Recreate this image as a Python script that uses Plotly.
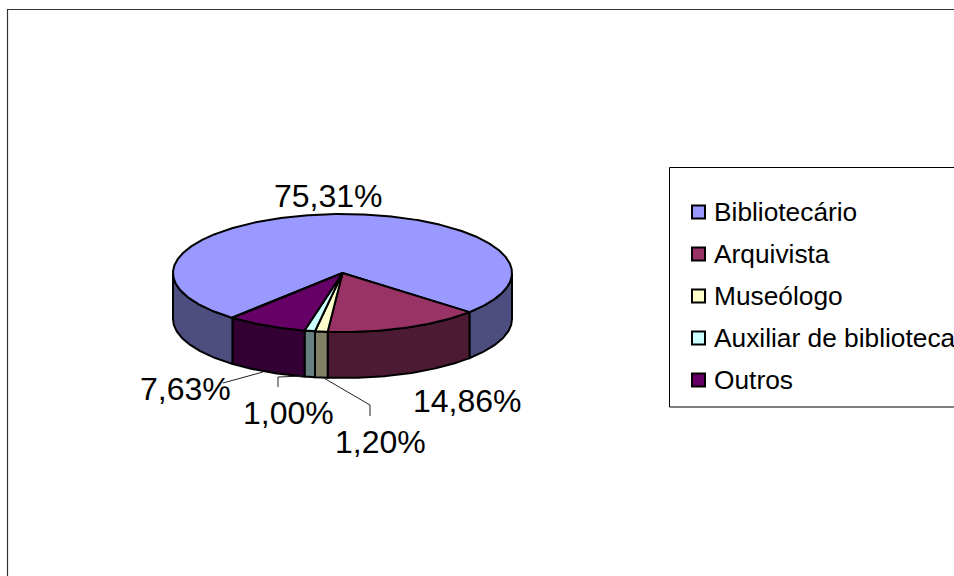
import numpy as np
import plotly.graph_objects as go

categories = ["Bibliotecário", "Arquivista", "Museólogo", "Auxiliar de biblioteca", "Outros"]
shares = [75.31, 14.86, 1.20, 1.00, 7.63]
top_colors = ["#9999FF", "#993366", "#FFFFCC", "#CCFFFF", "#660066"]
wall_colors = ["#4D4D80", "#4D1A33", "#808066", "#668080", "#330033"]

CX, CY, RX, RY, DEPTH = 342.5, 273.0, 169.5, 59.0, 46.0
START_DEG = 130.4
FONT = "Liberation Sans"
label_pos = [(328, 196), (467, 401), (380, 442), (288, 413), (185.5, 389)]
leaders = [None, None,
           ([370, 370, 322], [416, 405, 377]),
           ([278, 278, 303], [387, 377, 376]),
           ([223, 263], [383, 372])]
LEG_LEFT, LEG_TOP, LEG_BOTTOM = 669.5, 167.5, 407.0
LEG_MARKER_X, LEG_TEXT_X = 698.5, 712.0
LEG_FIRST_Y, LEG_STEP = 212.0, 42.0

def arc(a0, a1, dy=0.0):
    t = np.radians(np.linspace(a0, a1, max(int(abs(a1 - a0) * 2), 2)))
    return CX + RX * np.cos(t), CY + dy + RY * np.sin(t)

fig = go.Figure()
edges = np.concatenate([[0], np.cumsum(shares)]) / sum(shares) * 360 + START_DEG
spans = [(edges[i], edges[i + 1]) for i in range(len(shares))]

# side walls (only the front half of the disc is visible)
for i, (a0, a1) in enumerate(spans):
    for offset in (0, 360):
        lo, hi = max(a0, offset), min(a1, offset + 180)
        if hi <= lo:
            continue
        xt, yt = arc(lo, hi)
        xb, yb = arc(hi, lo, DEPTH)
        fig.add_trace(go.Scatter(
            x=np.r_[xt, xb, xt[0]], y=np.r_[yt, yb, yt[0]], mode="lines", fill="toself",
            fillcolor=wall_colors[i], line=dict(color="black", width=2),
            showlegend=False, hoverinfo="skip"))

# top faces
for i, (a0, a1) in enumerate(spans):
    xa, ya = arc(a0, a1)
    fig.add_trace(go.Scatter(
        x=np.r_[CX, xa, CX], y=np.r_[CY, ya, CY], mode="lines", fill="toself",
        fillcolor=top_colors[i], line=dict(color="black", width=2),
        showlegend=False, name=categories[i], hoverinfo="name"))

# leader lines
for seg in leaders:
    if seg:
        fig.add_trace(go.Scatter(x=seg[0], y=seg[1], mode="lines",
                                 line=dict(color="#222222", width=1),
                                 showlegend=False, hoverinfo="skip"))

for s, (lx, ly) in zip(shares, label_pos):
    fig.add_annotation(x=lx, y=ly, text=f"{s:.2f}%".replace(".", ","), showarrow=False,
                       xanchor="center", yanchor="middle",
                       font=dict(family=FONT, size=32, color="black"))

# legend, running off the right edge of the page as in the source chart
for i, c in enumerate(categories):
    y = LEG_FIRST_Y + i * LEG_STEP
    fig.add_trace(go.Scatter(x=[LEG_MARKER_X], y=[y], mode="markers", name=c, showlegend=False,
                             marker=dict(symbol="square", size=13, color=top_colors[i],
                                         line=dict(color="black", width=2))))
    fig.add_annotation(x=LEG_TEXT_X, y=y, text=c, showarrow=False, xanchor="left", yanchor="middle",
                       font=dict(family=FONT, size=26.3, color="black"))
fig.add_shape(type="rect", x0=LEG_LEFT, y0=LEG_TOP, x1=1000, y1=LEG_BOTTOM, layer="below",
              line=dict(color="black", width=1), fillcolor="white")

# chart frame
fig.add_shape(type="rect", x0=7.5, y0=9.5, x1=1000, y1=1000, layer="below",
              line=dict(color="#333333", width=1.2), fillcolor="rgba(0,0,0,0)")

fig.update_layout(
    width=954, height=576, margin=dict(l=0, r=0, t=0, b=0),
    paper_bgcolor="white", plot_bgcolor="white", showlegend=False,
    font=dict(family=FONT, color="black"),
    xaxis=dict(range=[0, 954], visible=False, fixedrange=True),
    yaxis=dict(range=[576, 0], visible=False, fixedrange=True),
)
fig.write_html("out.html", config={"displayModeBar": False},
               post_script="document.body.style.margin='0';document.body.style.overflow='hidden';")
